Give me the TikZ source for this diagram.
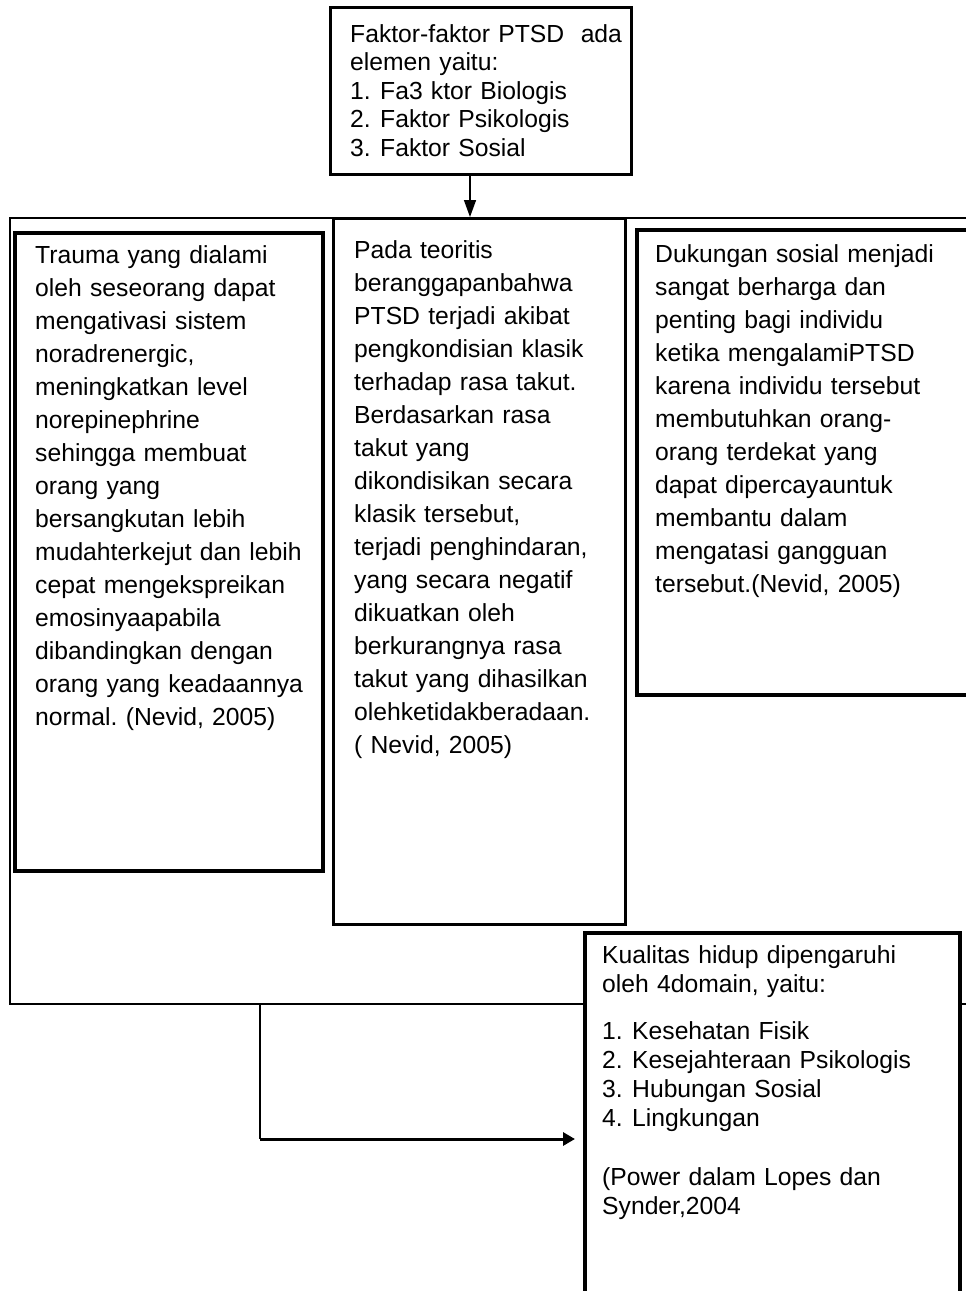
\documentclass[tikz,border=0pt]{standalone}
\usepackage{fontspec}
\setmainfont{Liberation Sans}
\usetikzlibrary{arrows.meta}
\frenchspacing
\begin{document}
\begin{tikzpicture}[x=1pt,y=-1pt,
  box/.style={draw=black,rectangle,inner sep=0pt,anchor=north west,fill=white},
  txt/.style={anchor=base west,inner sep=0pt,align=left,text width=420pt},
  tall/.style={font=\fontsize{24.7}{33}\selectfont},
  single/.style={font=\fontsize{24.7}{28.5}\selectfont},
  kual/.style={font=\fontsize{24.7}{29}\selectfont}]
\useasboundingbox (0,0) rectangle (966,1291);
\clip (0,0) rectangle (966,1291);
% outer frame
\node[box,line width=1.5pt,minimum width=976pt,minimum height=786pt] (frame) at (9,217) {};
% boxes
\node[box,line width=3pt,minimum width=301pt,minimum height=167pt] (top) at (329,6) {};
\node[box,line width=4pt,minimum width=308pt,minimum height=638pt] (left) at (13,231) {};
\node[box,line width=2.5pt,minimum width=292pt,minimum height=706pt] (mid) at (332,217) {};
\node[box,line width=4pt,minimum width=360pt,minimum height=465pt] (right) at (635,228) {};
\node[box,line width=4pt,minimum width=375pt,minimum height=380pt] (kual) at (583,931) {};
% texts
\node[txt,single] (toptxt) at (350,42) {Faktor-faktor PTSD~~ada\\elemen yaitu:\\
\makebox[30pt][l]{1.}Fa3 ktor Biologis\\
\makebox[30pt][l]{2.}Faktor Psikologis\\
\makebox[30pt][l]{3.}Faktor Sosial};
\node[txt,tall] (lefttxt) at (35,263) {Trauma yang dialami\\oleh seseorang dapat\\mengativasi sistem\\noradrenergic,\\meningkatkan level\\norepinephrine\\sehingga membuat\\orang yang\\bersangkutan lebih\\mudahterkejut dan lebih\\cepat mengekspreikan\\emosinyaapabila\\dibandingkan dengan\\orang yang keadaannya\\normal. (Nevid, 2005)};
\node[txt,tall] (midtxt) at (354,258) {Pada teoritis\\beranggapanbahwa\\PTSD terjadi akibat\\pengkondisian klasik\\terhadap rasa takut.\\Berdasarkan rasa\\takut yang\\dikondisikan secara\\klasik tersebut,\\terjadi penghindaran,\\yang secara negatif\\dikuatkan oleh\\berkurangnya rasa\\takut yang dihasilkan\\olehketidakberadaan.\\( Nevid, 2005)};
\node[txt,tall] (righttxt) at (655,262) {Dukungan sosial menjadi\\sangat berharga dan\\penting bagi individu\\ketika mengalamiPTSD\\karena individu tersebut\\membutuhkan orang-\\orang terdekat yang\\dapat dipercayauntuk\\membantu dalam\\mengatasi gangguan\\tersebut.(Nevid, 2005)};
\node[txt,kual] (kualtxt) at (602,963) {Kualitas hidup dipengaruhi\\oleh 4domain, yaitu:\\[18pt]
\makebox[30pt][l]{1.}Kesehatan Fisik\\
\makebox[30pt][l]{2.}Kesejahteraan Psikologis\\
\makebox[30pt][l]{3.}Hubungan Sosial\\
\makebox[30pt][l]{4.}Lingkungan\\[30pt]
(Power dalam Lopes dan\\Synder,2004};
% connectors
\coordinate (ax) at (470,0);
\draw[line width=1.5pt,-{Triangle[length=17pt,width=12pt]}] (top.south -| ax) -- (mid.north -| ax);
\coordinate (bx) at (260,1139);
\draw[line width=1.8pt] (frame.south -| bx) -- (bx);
\draw[line width=3pt,-{Triangle[length=12pt,width=13pt]}] (bx) -- ([xshift=-8pt]kual.west |- bx);
\end{tikzpicture}
\end{document}
